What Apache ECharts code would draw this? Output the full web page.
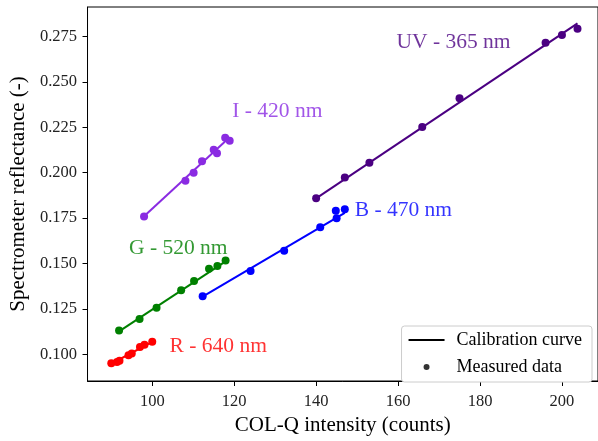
<!DOCTYPE html>
<html>
<head>
<meta charset="utf-8">
<script src="https://cdn.jsdelivr.net/npm/echarts@6/dist/echarts.min.js"></script>
<style>html,body{margin:0;padding:0;background:#fff;}#c{width:598px;height:441px;}</style>
</head>
<body>
<div id="c"></div>
<script>
// ---- data ----
const UV_x = [140.0, 147.0, 153.0, 165.9, 175.0, 196.0, 200.0, 203.8];
const UV_y = [0.1859, 0.1973, 0.2054, 0.2251, 0.2409, 0.2715, 0.2758, 0.2792];
const UV_fit_x = [140.0, 203.8];
const UV_fit_y = [0.1858, 0.2822];

const I_x = [98.0, 108.1, 110.1, 112.15, 115.0, 115.8, 117.8, 118.9];
const I_y = [0.1758, 0.1955, 0.2000, 0.2063, 0.2126, 0.2107, 0.2192, 0.2176];
const I_fit_x = [98.0, 118.9];
const I_fit_y = [0.1760, 0.2195];

const B_x = [112.3, 124.0, 132.2, 141.0, 145.0, 144.8, 147.0];
const B_y = [0.1319, 0.1459, 0.1570, 0.1699, 0.1749, 0.1790, 0.1799];
const B_fit_x = [112.3, 147.0];
const B_fit_y = [0.1317, 0.1778];

const G_x = [91.9, 96.9, 101.05, 107.05, 110.2, 113.85, 115.9, 117.9];
const G_y = [0.1131, 0.1194, 0.1256, 0.1353, 0.1403, 0.1471, 0.1486, 0.1516];
const G_fit_x = [91.9, 117.9];
const G_fit_y = [0.1126, 0.1512];

const R_x = [90.0, 91.4, 92.0, 94.2, 95.0, 97.0, 98.1, 100.0];
const R_y = [0.0951, 0.0958, 0.0965, 0.0995, 0.1005, 0.1040, 0.1052, 0.1069];
const R_fit_x = [90.0, 100.0];
const R_fit_y = [0.0948, 0.1068];

const labelNames = ['UV - 365 nm', 'I - 420 nm', 'B - 470 nm', 'G - 520 nm', 'R - 640 nm'];
const labelX = [159.5, 119.4, 149.3, 94.2, 104.1];
const labelY = [0.2720, 0.2338, 0.1790, 0.1582, 0.1043];

const xTicks = [100, 120, 140, 160, 180, 200];
const yTicks = [0.100, 0.125, 0.150, 0.175, 0.200, 0.225, 0.250, 0.275];

const FONT = "'Liberation Serif', serif";
const colors = {UV: '#4b0082', I: '#8a2be2', B: '#0000ff', G: '#008000', R: '#ff0000'};
const groups = [
  ['UV', UV_x, UV_y, UV_fit_x, UV_fit_y],
  ['I', I_x, I_y, I_fit_x, I_fit_y],
  ['B', B_x, B_y, B_fit_x, B_fit_y],
  ['G', G_x, G_y, G_fit_x, G_fit_y],
  ['R', R_x, R_y, R_fit_x, R_fit_y]
];
const labelColors = [colors.UV, colors.I, colors.B, colors.G, colors.R];

const zip = (a, b) => a.map((v, i) => [v, b[i]]);

const series = [];
groups.forEach(([k, x, y, fx, fy]) => {
  series.push({
    name: k + ' fit', type: 'line', data: zip(fx, fy), symbol: 'none',
    lineStyle: {color: colors[k], width: 2}, z: 2, silent: true
  });
  series.push({
    name: k + ' data', type: 'scatter', data: zip(x, y), symbol: 'circle', symbolSize: 8,
    itemStyle: {color: colors[k], opacity: 1}, z: 3, silent: true
  });
});
series.push({
  name: 'labels', type: 'scatter', symbolSize: 1, silent: true, z: 4,
  itemStyle: {color: 'rgba(0,0,0,0)'},
  data: labelNames.map((n, i) => ({
    name: n, value: [labelX[i], labelY[i]],
    label: {color: labelColors[i]}
  })),
  label: {show: true, position: 'right', distance: 0, formatter: p => p.name,
          fontFamily: FONT, fontSize: 21.5}
});
series.push({name: 'Calibration curve', type: 'line', data: [], symbol: 'none', showSymbol: false,
             color: '#000', lineStyle: {color: '#000', width: 2}});
series.push({name: 'Measured data', type: 'scatter', data: [], symbol: 'circle',
             color: '#000', itemStyle: {color: '#000'}});

const chart = echarts.init(document.getElementById('c'), null, {renderer: 'canvas'});
chart.setOption({
  animation: false,
  backgroundColor: '#fff',
  grid: {left: 85, right: 0, top: 7, bottom: 51, show: true, borderColor: '#000', borderWidth: 1, containLabel: false},
  legend: {
    data: [
      {name: 'Calibration curve', itemStyle: {color: 'rgba(0,0,0,0)', borderWidth: 0}, lineStyle: {color: '#000', width: 2}},
      {name: 'Measured data', icon: 'circle'}
    ],
    orient: 'vertical', right: 6, bottom: 59,
    itemWidth: 36, itemHeight: 6, itemGap: 9,
    padding: [5, 10, 6, 6],
    backgroundColor: '#fff', borderColor: '#cccccc', borderWidth: 1, borderRadius: 3,
    textStyle: {fontFamily: FONT, fontSize: 18, color: '#000', padding: [0, 0, 0, 7]},
    selectedMode: false
  },
  xAxis: {
    type: 'value', min: 84.2, max: 208.8,
    name: 'COL-Q intensity (counts)', nameLocation: 'middle', nameGap: 34,
    nameTextStyle: {fontFamily: FONT, fontSize: 21, color: '#000'},
    axisLine: {show: true, lineStyle: {color: '#000', width: 1}},
    axisTick: {show: true, inside: false, length: 5, lineStyle: {color: '#000'}, customValues: xTicks},
    axisLabel: {fontFamily: FONT, fontSize: 16.5, color: '#222', margin: 12, customValues: xTicks,
                formatter: v => String(v)},
    splitLine: {show: false}
  },
  yAxis: {
    type: 'value', min: 0.0853, max: 0.2912,
    name: 'Spectrometer reflectance (-)', nameLocation: 'middle', nameGap: 53, nameRotate: 90,
    nameTextStyle: {fontFamily: FONT, fontSize: 21, color: '#000'},
    axisLine: {show: true, lineStyle: {color: '#000', width: 1}},
    axisTick: {show: true, inside: false, length: 5, lineStyle: {color: '#000'}, customValues: yTicks},
    axisLabel: {fontFamily: FONT, fontSize: 16.5, color: '#222', margin: 10.5, customValues: yTicks,
                formatter: v => v.toFixed(3)},
    splitLine: {show: false}
  },
  series: series
});
</script>
</body>
</html>
